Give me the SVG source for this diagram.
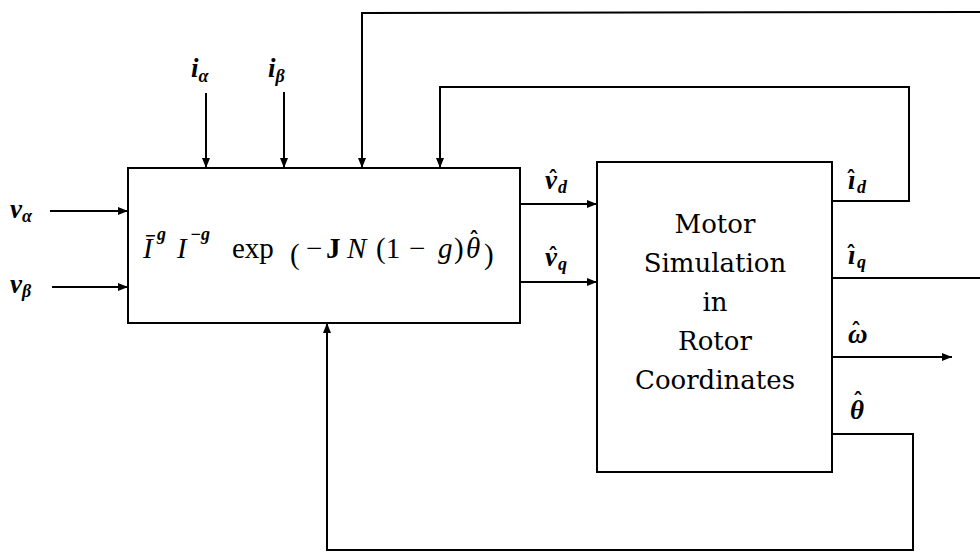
<svg xmlns="http://www.w3.org/2000/svg" width="980" height="555" viewBox="0 0 980 555">
<style>
.box{fill:#fff;stroke:#000;stroke-width:2}
.ln{fill:none;stroke:#000;stroke-width:2}
.arr{marker-end:url(#ah)}
.lab{font-family:'Liberation Serif',serif;font-style:italic;font-weight:bold;font-size:27px;fill:#000}
.sub{font-family:'Liberation Serif',serif;font-style:italic;font-weight:bold;font-size:18px;fill:#000}
.hat{font-family:'DejaVu Serif',serif;font-size:20px;font-style:normal;font-weight:bold;fill:#000}
.blk{font-family:'DejaVu Serif',serif;font-size:26px;fill:#000;text-anchor:middle}
.f{font-family:'Liberation Serif',serif;font-size:29px;fill:#000}
.fi{font-family:'Liberation Serif',serif;font-size:29px;font-style:italic;fill:#000}
.fs{font-family:'Liberation Serif',serif;font-size:18px;font-style:italic;font-weight:bold;fill:#000}
</style>
<defs>
<marker id="ah" markerUnits="userSpaceOnUse" markerWidth="10" markerHeight="8" refX="10" refY="4" orient="auto">
<path d="M0,0 L10,4 L0,8 z" fill="#000"/>
</marker>
</defs>
<g id="connectors">
<path class="ln arr" d="M206,93 L206,168"/>
<path class="ln arr" d="M284,92 L284,168"/>
<path class="ln arr" d="M980,12 L362,13 L362,168"/>
<path class="ln arr" d="M832,201 L909,201 L909,87 L440,87 L440,168"/>
<path class="ln" d="M832,278 L980,278"/>
<path class="ln arr" d="M50,211 L128,211"/>
<path class="ln arr" d="M52,287 L128,287"/>
<path class="ln arr" d="M520,204 L597,204"/>
<path class="ln arr" d="M520,282 L597,282"/>
<path class="ln arr" d="M832,357 L952,357"/>
<path class="ln arr" d="M832,434 L913,434 L913,550 L327,550 L327,323"/>
</g>
<g id="transform">
<rect class="box" x="128" y="168" width="392" height="155"/>
<text y="258"><tspan class="fi" x="143">Ī</tspan><tspan class="fs" x="157" y="240">g</tspan><tspan class="fi" x="177" y="258">I</tspan><tspan class="fs" x="190" y="240">−g</tspan><tspan class="f" x="232" y="258">exp</tspan><tspan class="f" x="290" y="264" font-size="46">(</tspan><tspan class="f" x="306" y="258">−</tspan><tspan class="f" x="326" y="258" font-weight="bold">J</tspan><tspan class="fi" x="347" y="258">N</tspan><tspan class="f" x="376" y="258">(1</tspan><tspan class="f" x="409" y="258">−</tspan><tspan class="fi" x="438" y="258">g</tspan><tspan class="f" x="454" y="258">)</tspan><tspan class="fi" x="466" y="258">θ</tspan><tspan class="hat" x="469" y="247">ˆ</tspan><tspan class="f" x="484" y="264" font-size="46">)</tspan></text>
</g>
<g id="motor">
<rect class="box" x="597" y="162" width="235" height="310"/>
<text class="blk" x="715" y="233">Motor</text>
<text class="blk" x="715" y="272">Simulation</text>
<text class="blk" x="715" y="311">in</text>
<text class="blk" x="715" y="350">Rotor</text>
<text class="blk" x="715" y="389">Coordinates</text>
</g>
<g id="labels">
<text class="lab" x="191" y="77">i<tspan class="sub" dy="5">α</tspan></text>
<text class="lab" x="268" y="77">i<tspan class="sub" dy="5">β</tspan></text>
<text class="lab" x="10" y="218">v<tspan class="sub" dy="4">α</tspan></text>
<text class="lab" x="10" y="293">v<tspan class="sub" dy="4">β</tspan></text>
<text class="lab" x="545" y="189">v<tspan class="hat" x="548" y="186">ˆ</tspan><tspan class="sub" x="558" y="193">d</tspan></text>
<text class="lab" x="545" y="266">v<tspan class="hat" x="548" y="263">ˆ</tspan><tspan class="sub" x="558" y="270">q</tspan></text>
<text class="lab" x="848" y="189">ı<tspan class="hat" x="846" y="186">ˆ</tspan><tspan class="sub" x="857" y="193">d</tspan></text>
<text class="lab" x="848" y="264">ı<tspan class="hat" x="846" y="261">ˆ</tspan><tspan class="sub" x="857" y="268">q</tspan></text>
<text class="lab" x="848" y="343" font-weight="normal">ω<tspan class="hat" x="851" y="338" font-weight="normal">ˆ</tspan></text>
<text class="lab" x="850" y="419">θ<tspan class="hat" x="853" y="408">ˆ</tspan></text>
</g>
</svg>
